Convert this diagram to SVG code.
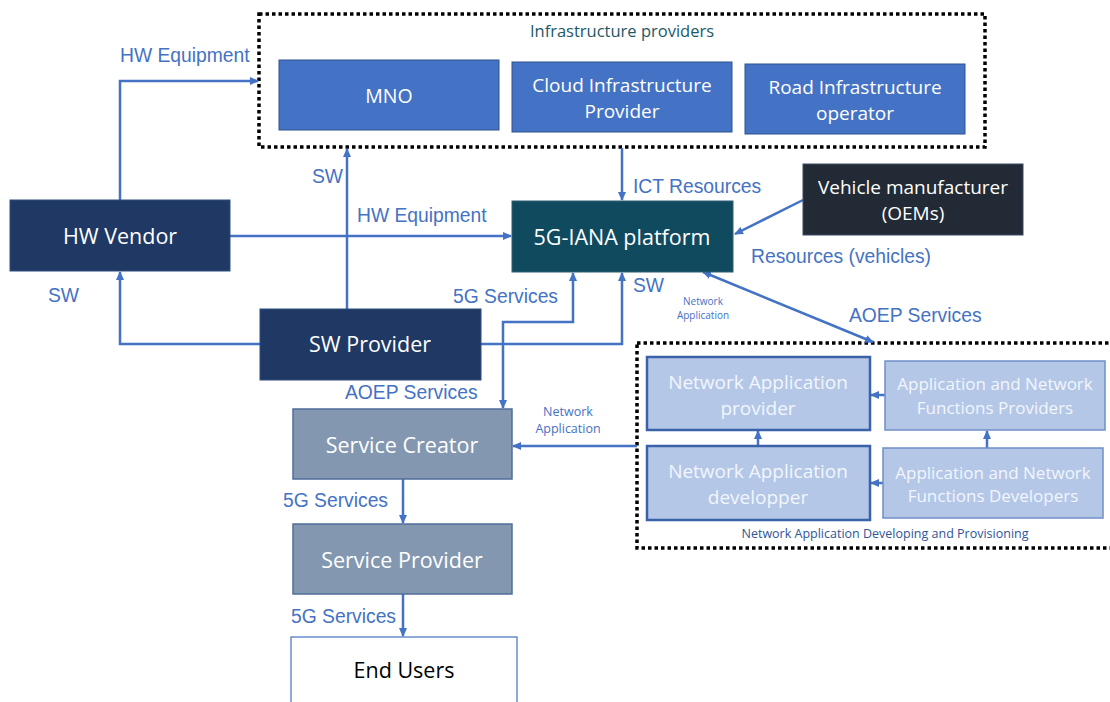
<svg xmlns="http://www.w3.org/2000/svg" width="1110" height="702" viewBox="0 0 1110 702">
<defs>
<marker id="ah" markerUnits="userSpaceOnUse" markerWidth="9" markerHeight="8" refX="8" refY="4" orient="auto-start-reverse"><path d="M0,0 L9,4 L0,8 z" fill="#4472c4"/></marker>
<style>
.conn{fill:none;stroke:#4472c4;stroke-width:2.5;}
.grp{fill:none;stroke:#000;stroke-width:3.5;stroke-dasharray:3.5 3;}
.lbl{font-family:"Liberation Sans",Arial,sans-serif;font-size:19.3px;fill:#4472c4;}
.sm{font-family:"Open Sans",sans-serif;fill:#4472c4;text-anchor:middle;}
.nt{font-family:"Open Sans",sans-serif;text-anchor:middle;fill:#fff;}
.blue{fill:#4472c4;stroke:#2f528f;stroke-width:1;}
.navy{fill:#1f3864;stroke:#2f4f80;stroke-width:1;}
.teal{fill:#104a5e;stroke:#2f5f75;stroke-width:1;}
.dark{fill:#222a35;stroke:#3b4b66;stroke-width:1;}
.grey{fill:#8497b0;stroke:#4f6e9a;stroke-width:1.5;}
.lightA{fill:#b4c7e7;stroke:#3a62a8;stroke-width:2.5;}
.lightB{fill:#b4c7e7;stroke:#6f8fc8;stroke-width:1.5;}
.lt{fill:#f2f6fc;}
</style>
</defs>

<g id="group-infrastructure">
<rect class="grp" x="259" y="14" width="726" height="133"/>
<text x="622" y="37" font-family="Open Sans, sans-serif" font-size="16.5" fill="#215868" text-anchor="middle">Infrastructure providers</text>
</g>
<g id="group-netapp">
<rect class="grp" x="637" y="343" width="480" height="205"/>
<text x="885" y="538" font-family="Open Sans, sans-serif" font-size="12.5" fill="#2f5597" text-anchor="middle">Network Application Developing and Provisioning</text>
</g>

<g id="connectors">
<path class="conn" d="M120,200 V81 H258" marker-end="url(#ah)"/>
<path class="conn" d="M347,309 V149" marker-end="url(#ah)"/>
<path class="conn" d="M230,236 H511" marker-end="url(#ah)"/>
<path class="conn" d="M260,344 H120 V272" marker-end="url(#ah)"/>
<path class="conn" d="M481,344 H622 V273" marker-end="url(#ah)"/>
<path class="conn" d="M573,273 V322 H503 V408" marker-start="url(#ah)" marker-end="url(#ah)"/>
<path class="conn" d="M622,148 V200" marker-end="url(#ah)"/>
<path class="conn" d="M803,200 L735,234" marker-end="url(#ah)"/>
<path class="conn" d="M703,272 L873,342" marker-start="url(#ah)" marker-end="url(#ah)"/>
<path class="conn" d="M637,446 H513" marker-end="url(#ah)"/>
<path class="conn" d="M403,479 V523" marker-end="url(#ah)"/>
<path class="conn" d="M403,594 V636" marker-end="url(#ah)"/>
<path class="conn" d="M885,395 H871" marker-end="url(#ah)"/>
<path class="conn" d="M883,483 H871" marker-end="url(#ah)"/>
<path class="conn" d="M758,446 V431" marker-end="url(#ah)"/>
<path class="conn" d="M987,448 V431" marker-end="url(#ah)"/>
</g>

<g id="labels">
<text class="lbl" x="120" y="62">HW Equipment</text>
<text class="lbl" x="312" y="183">SW</text>
<text class="lbl" x="357" y="222">HW Equipment</text>
<text class="lbl" x="48" y="302">SW</text>
<text class="lbl" x="453" y="303">5G Services</text>
<text class="lbl" x="633" y="193">ICT Resources</text>
<text class="lbl" x="633" y="292">SW</text>
<text class="lbl" x="751" y="263">Resources (vehicles)</text>
<text class="lbl" x="849" y="322">AOEP Services</text>
<text class="lbl" x="345" y="399">AOEP Services</text>
<text class="lbl" x="283" y="507">5G Services</text>
<text class="lbl" x="291" y="623">5G Services</text>
<text class="sm" x="703" y="305" font-size="10">Network</text>
<text class="sm" x="703" y="319" font-size="10">Application</text>
<text class="sm" x="568" y="416" font-size="12.5">Network</text>
<text class="sm" x="568" y="433" font-size="12.5">Application</text>
</g>

<g id="node-mno">
<rect class="blue" x="279" y="60" width="220" height="70"/>
<text class="nt" x="389" y="103" font-size="19.5">MNO</text>
</g>
<g id="node-cloud">
<rect class="blue" x="512" y="62" width="220" height="70"/>
<text class="nt" x="622" y="92" font-size="19">Cloud Infrastructure</text>
<text class="nt" x="622" y="118" font-size="19">Provider</text>
</g>
<g id="node-road">
<rect class="blue" x="745" y="64" width="220" height="70"/>
<text class="nt" x="855" y="94" font-size="19">Road Infrastructure</text>
<text class="nt" x="855" y="120" font-size="19">operator</text>
</g>
<g id="node-hwvendor">
<rect class="navy" x="10" y="200" width="220" height="71"/>
<text class="nt" x="120" y="244" font-size="21.5">HW Vendor</text>
</g>
<g id="node-5giana">
<rect class="teal" x="512" y="201" width="221" height="71"/>
<text class="nt" x="622" y="245" font-size="21.5">5G-IANA platform</text>
</g>
<g id="node-vehicle">
<rect class="dark" x="803" y="164" width="220" height="71"/>
<text class="nt" x="913" y="194" font-size="19">Vehicle manufacturer</text>
<text class="nt" x="913" y="220" font-size="19">(OEMs)</text>
</g>
<g id="node-swprovider">
<rect class="navy" x="260" y="309" width="221" height="71"/>
<text class="nt" x="370" y="352" font-size="21.5">SW Provider</text>
</g>
<g id="node-servicecreator">
<rect class="grey" x="293" y="409" width="219" height="70"/>
<text class="nt" x="402" y="453" font-size="21.5" fill="#f2f2f2">Service Creator</text>
</g>
<g id="node-serviceprovider">
<rect class="grey" x="293" y="524" width="219" height="70"/>
<text class="nt" x="402" y="568" font-size="21.5" fill="#f2f2f2">Service Provider</text>
</g>
<g id="node-endusers">
<rect x="291" y="637" width="226" height="80" fill="#fff" stroke="#4472c4" stroke-width="1.2"/>
<text class="nt" x="404" y="678" font-size="21.5" style="fill:#000">End Users</text>
</g>
<g id="node-naprovider">
<rect class="lightA" x="647" y="357" width="223" height="73"/>
<text class="nt lt" x="758" y="389" font-size="19">Network Application</text>
<text class="nt lt" x="758" y="415" font-size="19">provider</text>
</g>
<g id="node-anfproviders">
<rect class="lightB" x="885" y="361" width="220" height="69"/>
<text class="nt lt" x="995" y="390" font-size="17">Application and Network</text>
<text class="nt lt" x="995" y="414" font-size="17">Functions Providers</text>
</g>
<g id="node-nadeveloper">
<rect class="lightA" x="647" y="446" width="223" height="74"/>
<text class="nt lt" x="758" y="478" font-size="19">Network Application</text>
<text class="nt lt" x="758" y="504" font-size="19">developper</text>
</g>
<g id="node-anfdevelopers">
<rect class="lightB" x="883" y="448" width="220" height="70"/>
<text class="nt lt" x="993" y="479" font-size="17">Application and Network</text>
<text class="nt lt" x="993" y="502" font-size="17">Functions Developers</text>
</g>
</svg>
